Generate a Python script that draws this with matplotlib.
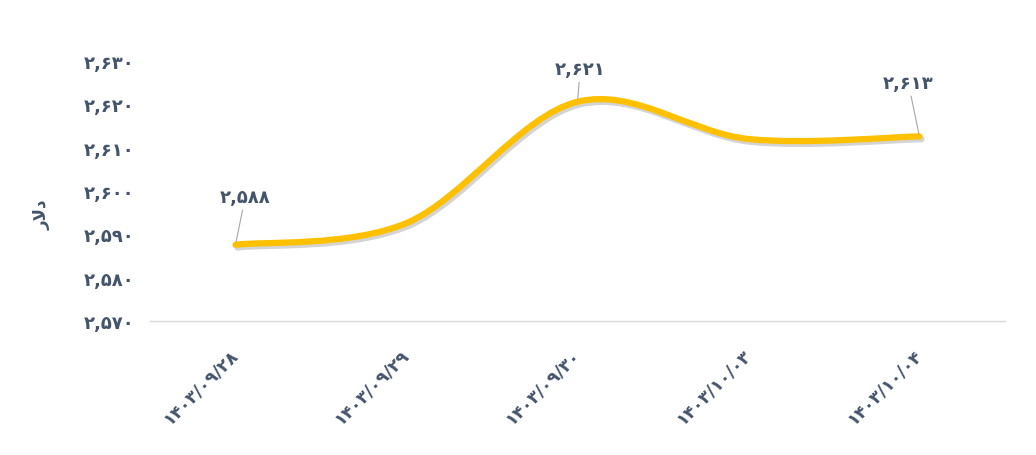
import numpy as np
import matplotlib
matplotlib.use("Agg")
import matplotlib.pyplot as plt
import matplotlib.patheffects as pe
from matplotlib.path import Path
from matplotlib.patches import PathPatch

# data
dates = ["۱۴۰۳/۰۹/۲۸", "۱۴۰۳/۰۹/۲۹", "۱۴۰۳/۰۹/۳۰", "۱۴۰۳/۱۰/۰۳", "۱۴۰۳/۱۰/۰۴"]
prices = [2587.6, 2592.6, 2620.6, 2612, 2612.6]
shown = [0, 2, 4]   # points that carry a label
label_off = [(7, 28), (2, 17), (-8, 32)]   # label offsets in points
yticks = [2570, 2580, 2590, 2600, 2610, 2620, 2630]

fa_digits = str.maketrans("0123456789", "۰۱۲۳۴۵۶۷۸۹")

def fa(n):
    return "{:,}".format(int(round(n))).translate(fa_digits)

txt_col = "#44546A"
line_col = "#FFC000"

fig = plt.figure(figsize=(10.36, 4.56), dpi=100)
ax = fig.add_axes([0.1448, 0.2939, 0.8252, 0.5701])

x = np.arange(len(prices))
y = np.array(prices, float)

# smoothed line (cardinal spline as bezier segments)
verts = [(x[0], y[0])]
codes = [Path.MOVETO]
n = len(x)
for i in range(n - 1):
    p0 = np.array([x[max(i - 1, 0)], y[max(i - 1, 0)]])
    p1 = np.array([x[i], y[i]])
    p2 = np.array([x[i + 1], y[i + 1]])
    p3 = np.array([x[min(i + 2, n - 1)], y[min(i + 2, n - 1)]])
    c1 = p1 + (p2 - p0) / 6
    c2 = p2 - (p3 - p1) / 6
    verts += [tuple(c1), tuple(c2), tuple(p2)]
    codes += [Path.CURVE4] * 3

patch = PathPatch(Path(verts, codes), fill=False, edgecolor=line_col, lw=4.5,
                  capstyle="round", joinstyle="round", zorder=3)
patch.set_path_effects([pe.SimpleLineShadow(offset=(1.5, -2), shadow_color="#555555", alpha=0.25),
                        pe.Normal()])
ax.add_patch(patch)

for k, i in enumerate(shown):
    ax.annotate(fa(prices[i]), xy=(x[i], y[i]), xytext=label_off[k],
                textcoords="offset points", ha="center", va="bottom",
                fontsize=13, fontweight="bold", color=txt_col,
                arrowprops=dict(arrowstyle="-", color="#A6A6A6", lw=0.8,
                                shrinkA=1, shrinkB=2))

ax.set_xlim(-0.5, len(prices) - 0.5)
ax.set_ylim(2570, 2630)
ax.set_yticks(yticks)
ax.set_yticklabels([fa(v) for v in yticks], fontsize=13, fontweight="bold", color=txt_col)
ax.set_xticks(x)
ax.set_xticklabels(dates, rotation=45, ha="right", va="center", rotation_mode="anchor",
                   fontsize=12.5, fontweight="bold", color=txt_col)
ax.tick_params(axis="both", length=0)
ax.tick_params(axis="y", pad=11)
ax.tick_params(axis="x", pad=22)

for s in ["top", "right", "left"]:
    ax.spines[s].set_visible(False)
ax.spines["bottom"].set_color("#D9D9D9")
ax.spines["bottom"].set_linewidth(1)

# y axis title (visual order, presentation forms)
fig.text(0.04, 0.53, "\u0631\uFEFB\u062F", rotation=90, ha="center", va="center",
         fontsize=12, fontweight="bold", color=txt_col)

fig.savefig("out.png", dpi=100)
